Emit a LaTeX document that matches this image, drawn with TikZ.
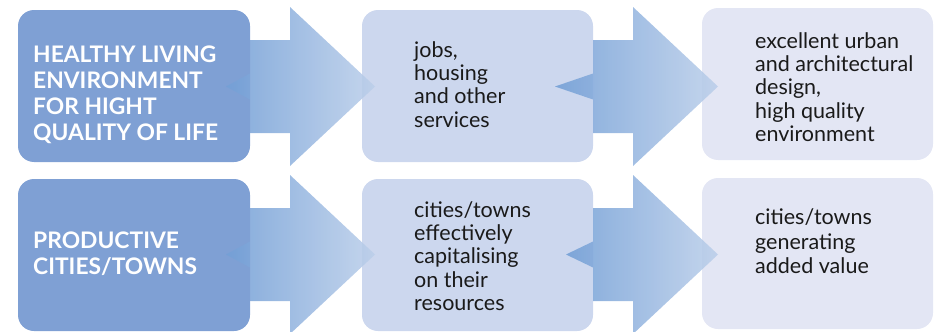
\documentclass[tikz,border=0pt]{standalone}
\usepackage{fontspec}
\setmainfont{Lato}
\definecolor{boxdark}{HTML}{7FA0D4}
\definecolor{boxmid}{HTML}{CCD7EE}
\definecolor{boxlight}{HTML}{E3E6F4}
\definecolor{arrL}{HTML}{739FD6}
\definecolor{arrR}{HTML}{BCCFEA}
\definecolor{ink}{HTML}{1A1A1A}
\newcommand\drawbigarrow[4]{% #1 box edge x, #2 centre y, #3 tail x, #4 name
  \path[bigarrow] (#3,#2) -- (#1,#2-13) -- (#1,#2-46.5) -- (#1+40,#2-46.5)
    -- (#1+40,#2-79.5) -- (#1+125,#2) -- (#1+40,#2+79.5) -- (#1+40,#2+46.5)
    -- (#1,#2+46.5) -- (#1,#2+13) -- cycle;
  \coordinate (#4) at (#1+125,#2);}
\begin{document}
\begin{tikzpicture}[x=1pt,y=-1pt,
  box/.style={rectangle, rounded corners=16pt, inner sep=0pt,
    minimum width=231pt, minimum height=152pt},
  bigarrow/.style={left color=arrL, right color=arrR, fill opacity=0.88, draw=none},
  hd/.style={anchor=base west, inner sep=0pt, text=white,
    font=\fontsize{22.8}{26}\selectfont\bfseries},
  tx/.style={anchor=base west, inner sep=0pt, text=ink,
    font=\fontsize{21.5}{23.4}\selectfont}]
\useasboundingbox (0,0) rectangle (940,332);
% boxes
\node[box, fill=boxdark, minimum width=232pt] (a1) at (134,86) {};
\node[box, fill=boxmid] (b1) at (477.5,86) {};
\node[box, fill=boxlight] (c1) at (817.5,84) {};
\node[box, fill=boxdark, minimum width=232pt] (a2) at (134,255) {};
\node[box, fill=boxmid] (b2) at (477.5,255) {};
\node[box, fill=boxlight, minimum height=151pt] (c2) at (817.5,253.5) {};
% arrows
\drawbigarrow{250}{86.5}{226}{p1}
\drawbigarrow{593}{86.5}{555}{p2}
\drawbigarrow{250}{254.5}{226}{p3}
\drawbigarrow{593}{254.5}{566}{p4}
% texts
\node[hd] (ta1) at (33,62) {\begin{tabular}[t]{@{}l@{}}HEALTHY LIVING\\ENVIRONMENT\\FOR HIGHT\\QUALITY OF LIFE\end{tabular}};
\node[hd] (ta2) at (33,248) {\begin{tabular}[t]{@{}l@{}}PRODUCTIVE\\CITIES/TOWNS\end{tabular}};
\node[tx] (tb1) at (414,57) {\begin{tabular}[t]{@{}l@{}}jobs,\\housing\\and other\\services\end{tabular}};
\node[tx] (tc1) at (755,48) {\begin{tabular}[t]{@{}l@{}}excellent urban\\and architectural\\design,\\high quality\\environment\end{tabular}};
\node[tx] (tb2) at (414,217) {\begin{tabular}[t]{@{}l@{}}cities/towns\\effectively\\capitalising\\on their\\resources\end{tabular}};
\node[tx, font=\fontsize{21.5}{24.5}\selectfont] (tc2) at (755,224.5) {\begin{tabular}[t]{@{}l@{}}cities/towns\\generating\\added value\end{tabular}};
\end{tikzpicture}
\end{document}
